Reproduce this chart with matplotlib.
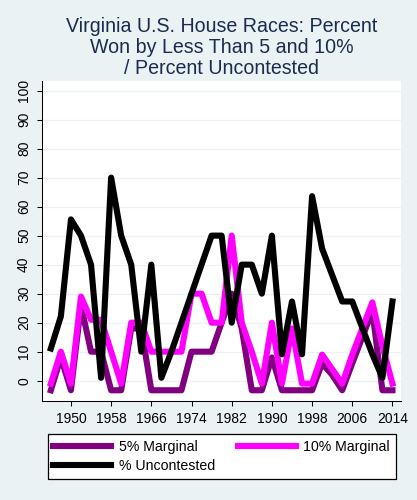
import matplotlib
matplotlib.use("Agg")
import matplotlib.pyplot as plt

plt.rcParams["font.family"] = ["Liberation Sans", "DejaVu Sans"]

YEARS = list(range(1946, 2015, 2))

# % of races uncontested
UNCONTESTED = [11.1, 22.2, 55.6, 50, 40, 1, 70, 50, 40, 10, 40, 1, 10, 20, 30, 40, 50, 50,
               20, 40, 40, 30, 50, 9.1, 27.3, 9.1, 63.6, 45.5, 36.4, 27.3, 27.3, 18.2, 9.1, 1, 27.3]
# % won by less than 10 points
MARGIN_10 = [-1, 10, -1, 29, 21, 21, 10, -1, 20, 20, 10, 10, 10, 10, 30, 30, 20, 20,
             50, 20, 10, -1, 20, -1, 18, -1, -1, 9, 4, -1, 9, 18, 27, 12, -1]
# % won by less than 5 points
MARGIN_5 = [-3.3, 8, -3.3, 26, 10, 10, -3.3, -3.3, 18, 18, -3.3, -3.3, -3.3, -3.3, 10, 10, 10, 20,
            30, 18, -3.3, -3.3, 8, -3.3, -3.3, -3.3, -3.3, 6, 2, -3.3, 6, 15, 24, -3.3, -3.3]

XTICKS = [1950, 1958, 1966, 1974, 1982, 1990, 1998, 2006, 2014]
YTICKS = list(range(0, 101, 10))

BG = "#EAF2F3"
W, H = 417, 500

fig = plt.figure(figsize=(W / 100, H / 100), dpi=100, facecolor=BG)
ax = fig.add_axes([42.3 / W, 1 - 401 / H, (401 - 42.3) / W, (401 - 81) / H])
ax.set_facecolor("white")

lw = 4.4
l5, = ax.plot(YEARS, MARGIN_5, color="#800080", lw=lw, label="5% Marginal")
l10, = ax.plot(YEARS, MARGIN_10, color="#FF00FF", lw=lw, label="10% Marginal")
lu, = ax.plot(YEARS, UNCONTESTED, color="black", lw=lw, label="% Uncontested")

ax.set_xlim(1944.3, 2015.7)
ax.set_ylim(-7.0, 103.3)
ax.set_xticks(XTICKS)
ax.set_yticks(YTICKS)
ax.set_yticklabels([str(v) for v in YTICKS], rotation=90, va="center")
ax.tick_params(direction="out", length=3.6, width=0.75, labelsize=10, colors="black")
ax.tick_params(axis="y", pad=4.5)
ax.tick_params(axis="x", pad=4)
ax.grid(axis="y", color=BG, lw=0.9)
ax.set_axisbelow(True)
for s in ["top", "right"]:
    ax.spines[s].set_visible(False)
for s in ["left", "bottom"]:
    ax.spines[s].set_linewidth(0.75)

title = "Virginia U.S. House Races: Percent\nWon by Less Than 5 and 10%\n/ Percent Uncontested"
fig.text(222 / W, 1 - 47.5 / H, title, ha="center", va="center", fontsize=14.1,
         color="#1a2b4f", linespacing=1.1)

# row-major order like the original: 5%, 10% on top, uncontested below
leg = fig.legend([l5, lu, l10], ["5% Marginal", "% Uncontested", "10% Marginal"],
                 loc="lower left", ncol=2, mode="expand", borderaxespad=0,
                 bbox_to_anchor=(47.7 / W, 1 - 479 / H, (395.7 - 47.7) / W, 46 / H),
                 fontsize=10.2, handlelength=4.1, handletextpad=0.5, borderpad=0.4,
                 labelspacing=0.4, fancybox=False, framealpha=1, edgecolor="black")
leg.get_frame().set_linewidth(0.9)

fig.savefig("out.png", dpi=100, facecolor=BG)
